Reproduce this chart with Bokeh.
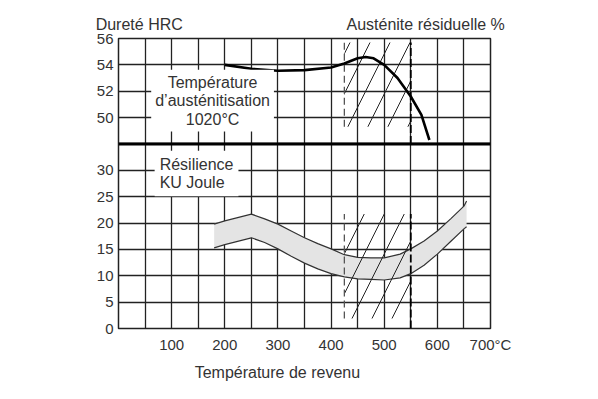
from bokeh.plotting import figure
from bokeh.models import Range1d, FixedTicker, Label, Span, LinearAxis
from bokeh.embed import file_html
from bokeh.resources import INLINE

# ---- data ----
temp_ticks = [100, 200, 300, 400, 500, 600, 700]
joule_ticks = [0, 5, 10, 15, 20, 25, 30]
hrc_ticks = [50, 52, 54, 56]

# hardness HRC vs tempering temperature
hrc_temp = [200, 250, 300, 350, 400, 425, 450, 465, 480, 500, 525, 550, 570, 585]
hrc_val = [54.0, 53.7, 53.55, 53.6, 53.8, 54.1, 54.5, 54.6, 54.5, 54.0, 53.0, 51.6, 50.2, 48.3]

# resilience KU band
kv_temp = [180, 200, 250, 275, 300, 325, 350, 375, 400, 425, 450, 475, 500, 530, 550, 575, 600, 625, 650, 655]
kv_upper = [19.8, 20.4, 21.7, 20.8, 19.8, 18.5, 17.2, 16.1, 15.1, 14.0, 13.5, 13.4, 13.4, 14.1, 15.1, 16.6, 18.5, 20.8, 23.2, 24.2]
kv_lower = [15.3, 15.9, 17.2, 16.3, 15.1, 13.7, 12.4, 11.3, 10.4, 9.8, 9.4, 9.3, 9.2, 9.6, 10.4, 12.0, 14.1, 16.5, 18.9, 19.3]

# residual austenite zone (temperatures) and its vertical extents
zone_start = [425]
zone_end = [550]
zone_hrc = [49.3, 55.7]
zone_joule = [1.9, 21.7]
hrc_base = 48

# header texts and where (in °C) they are centred
top_titles = {39: "Dureté HRC", 578: "Austénite résiduelle %"}
bottom_title = {299: "Température de revenu"}

FONT = "Liberation Sans"
INK = "#222222"
TXT = "#333333"

p = figure(frame_width=372, frame_height=290, output_backend="svg", toolbar_location=None,
           x_range=Range1d(0, 700), y_range=Range1d(0, 55),
           min_border_left=118, min_border_right=92, min_border_top=38, min_border_bottom=30)
# HRC scale occupies top 4 cells (48..56) of 11 cells => 2 HRC per cell
p.extra_y_ranges = {"hrc": Range1d(hrc_base - 7 * 2, 56)}

p.outline_line_color = INK
p.outline_line_width = 1.5
p.background_fill_color = "white"
p.border_fill_color = "white"

# grids
p.xgrid.ticker = FixedTicker(ticks=list(range(50, 700, 50)))
p.ygrid.ticker = FixedTicker(ticks=list(range(5, 55, 5)))
for g in (p.xgrid, p.ygrid):
    g.grid_line_color = INK
    g.grid_line_width = 1.3
    g.grid_line_alpha = 1

# axes
xa = p.xaxis[0]
xa.ticker = FixedTicker(ticks=temp_ticks)
xa.major_label_overrides = {700: "700°C"}
ya = p.yaxis[0]
hrc_pos = [35 + (h - hrc_base) * 2.5 for h in hrc_ticks]
ya.ticker = FixedTicker(ticks=joule_ticks + hrc_pos)
ya.major_label_overrides = {pos: str(h) for pos, h in zip(hrc_pos, hrc_ticks)}

top_ax = LinearAxis(ticker=FixedTicker(ticks=list(top_titles)),
                    major_label_overrides=top_titles)
bot_ax = LinearAxis(ticker=FixedTicker(ticks=list(bottom_title)),
                    major_label_overrides=bottom_title)
p.add_layout(top_ax, "above")
p.add_layout(bot_ax, "below")

for ax in (xa, ya, top_ax, bot_ax):
    ax.axis_line_color = None
    ax.major_tick_line_color = None
    ax.minor_tick_line_color = None
    ax.major_tick_out = 0
    ax.major_tick_in = 0
    ax.minor_tick_out = 0
    ax.minor_tick_in = 0
    ax.major_label_text_font = FONT
    ax.major_label_text_font_size = "15px"
    ax.major_label_text_color = TXT
for ax in (top_ax, bot_ax):
    ax.major_label_text_font_size = "16px"
xa.major_label_standoff = 7
ya.major_label_standoff = 5
top_ax.major_label_standoff = 6
bot_ax.major_label_standoff = 8

# resilience band
p.varea(x=kv_temp, y1=kv_lower, y2=kv_upper, fill_color="#e4e4e4")
p.line(kv_temp, kv_upper, line_color="#333333", line_width=1.2)
p.line(kv_temp, kv_lower, line_color="#333333", line_width=1.2)

# hatched zones
p.quad(left=zone_start, right=zone_end, bottom=[zone_hrc[0]], top=[zone_hrc[1]],
       y_range_name="hrc", fill_alpha=0, line_color=None,
       hatch_pattern="/", hatch_color=INK, hatch_scale=40, hatch_weight=1)
p.quad(left=zone_start, right=zone_end, bottom=[zone_joule[0]], top=[zone_joule[1]],
       fill_alpha=0, line_color=None,
       hatch_pattern="/", hatch_color=INK, hatch_scale=40, hatch_weight=1)

# dashed boundaries
p.segment(x0=zone_start, x1=zone_start, y0=[zone_hrc[0]], y1=[zone_hrc[1]], y_range_name="hrc",
          line_color="#555555", line_width=1.3, line_dash="7 4")
p.segment(x0=zone_start, x1=zone_start, y0=[zone_joule[0]], y1=[zone_joule[1]],
          line_color="#555555", line_width=1.3, line_dash="7 4")
p.segment(x0=zone_end, x1=zone_end, y0=[hrc_base], y1=[zone_hrc[1]], y_range_name="hrc",
          line_color="black", line_width=1.8, line_dash="8 3")
p.segment(x0=zone_end, x1=zone_end, y0=[0], y1=[zone_joule[1]],
          line_color="black", line_width=1.8, line_dash="8 3")

# panel separator
p.add_layout(Span(location=hrc_base, dimension="width", y_range_name="hrc",
                  line_color="black", line_width=3))

# hardness curve
p.line(hrc_temp, hrc_val, y_range_name="hrc", line_color="black", line_width=2.6)

# text boxes
p.add_layout(Label(x=177, y=43.2, text="Température\nd’austénitisation\n1020°C",
                   text_align="center", text_baseline="middle", text_font=FONT,
                   text_font_size="16px", text_color=TXT, text_line_height=1.08,
                   background_fill_color="white", padding=4))
p.add_layout(Label(x=68, y=29.4, text="Résilience\nKU Joule",
                   text_align="left", text_baseline="middle", text_font=FONT,
                   text_font_size="16px", text_color=TXT, text_line_height=1.1,
                   background_fill_color="white", padding=5))

open("out.html", "w").write(file_html(p, INLINE))
